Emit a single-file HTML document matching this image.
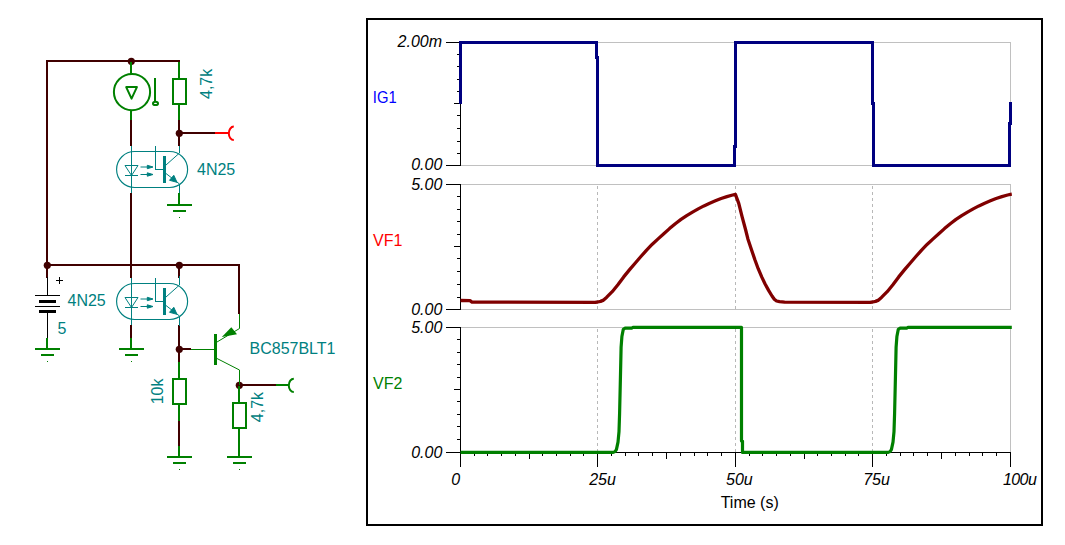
<!DOCTYPE html>
<html><head><meta charset="utf-8">
<style>
html,body{margin:0;padding:0;background:#fff;}
body{width:1065px;height:545px;overflow:hidden;font-family:"Liberation Sans",sans-serif;}
svg{display:block;position:absolute;left:0;top:0;}
text{font-family:"Liberation Sans",sans-serif;}
.w{stroke:#400000;stroke-width:2;fill:none;shape-rendering:crispEdges;}
.g{stroke:#008000;stroke-width:2;fill:none;shape-rendering:crispEdges;}
.g1{stroke:#008000;stroke-width:1;fill:none;}
.t{stroke:#008080;stroke-width:1;fill:none;}
.k{stroke:#000;stroke-width:1;fill:none;shape-rendering:crispEdges;}
.lb{fill:#008080;font-size:16px;}
.ax{fill:#000;font-size:16px;font-style:italic;}
</style></head><body>
<svg width="1065" height="545" viewBox="0 0 1065 545">
<rect width="1065" height="545" fill="#fff"/>
<!-- SCHEMATIC -->
<g id="sch">
<!-- dark wires -->
<path class="w" d="M46,61 H180 M47,60 V278 M46,265 H240 M239,264 V314 M131,120 V146 M131,193 V278 M131,325 V338 M179,120 V146 M179,133 H215 M179,265 V278 M179,325 V362 M179,349 H191 M179,421 V446 M239,385 H276"/>
<!-- junction dots -->
<g fill="#400000"><circle cx="131.3" cy="61.3" r="3.6"/><circle cx="179.3" cy="133.3" r="3.6"/><circle cx="47.3" cy="265.3" r="3.6"/><circle cx="179.3" cy="265.3" r="3.6"/><circle cx="179.3" cy="349.3" r="3.6"/><circle cx="239.3" cy="385.3" r="3.6"/></g>
<!-- red output -->
<path d="M215,133 H229" stroke="#ff0000" stroke-width="2" fill="none" shape-rendering="crispEdges"/>
<path d="M233.8,126.6 A5,6.7 0 0 0 233.8,140" stroke="#ff0000" stroke-width="2" fill="none"/>
<!-- green output -->
<path class="g" d="M276,385 H289"/>
<path d="M293.8,378.7 A5,6.7 0 0 0 293.8,392.1" stroke="#008000" stroke-width="2" fill="none"/>
<!-- current source -->
<path class="g" d="M131,62 V74 M131,110 V120"/>
<circle cx="132" cy="92.05" r="18.1" stroke="#008000" stroke-width="2" fill="none"/>
<path d="M126.2,87.1 H136.9 L131.55,98.7 Z" stroke="#008000" stroke-width="2" fill="none" stroke-linejoin="round"/>
<path class="g" d="M155,78 V101"/>
<ellipse cx="155.5" cy="103.4" rx="2.5" ry="1.7" stroke="#008000" stroke-width="2" fill="none"/>
<!-- R1 4,7k -->
<path class="g" d="M179,62 V79 M179,104 V120"/>
<rect class="g" x="173" y="79" width="13" height="25"/>
<!-- opto 1 -->
<g id="opto" class="t">
<path d="M134.6,151.5 H169.6 A18,18 0 0 1 169.6,187.5 H134.6 A18,18 0 0 1 134.6,151.5 Z" stroke-width="1.15"/>
<path d="M131.5,146 V193" shape-rendering="crispEdges"/>
<path d="M125,165.5 H138 L131.5,175.5 Z M125,175.5 H138"/>
<path d="M140.5,167 H149 M140.5,174.5 H149"/>
<path d="M147.3,165.3 L153,167 L147.3,168.7 Z M147.3,172.8 L153,174.5 L147.3,176.2 Z" fill="#008080"/>
<path d="M155.5,146 V169.5 H164" shape-rendering="crispEdges"/>
<path d="M164.5,156 V182.5" stroke-width="3" shape-rendering="crispEdges"/>
<path d="M179.5,146 V153 L166,165 M166,173.5 L179.5,184 V193"/>
<path d="M177,182.3 L169.5,180.3 L173.8,175.3 Z" fill="#008080"/>
</g>
<path class="g" d="M179,193 V205 M167,205 H192 M173,211 H186"/>
<rect x="179" y="217" width="1" height="1" fill="#008000"/>
<!-- opto 2 -->
<g class="t" transform="translate(0,132)">
<path d="M134.6,151.5 H169.6 A18,18 0 0 1 169.6,187.5 H134.6 A18,18 0 0 1 134.6,151.5 Z" stroke-width="1.15"/>
<path d="M131.5,146 V193" shape-rendering="crispEdges"/>
<path d="M125,165.5 H138 L131.5,175.5 Z M125,175.5 H138"/>
<path d="M140.5,167 H149 M140.5,174.5 H149"/>
<path d="M147.3,165.3 L153,167 L147.3,168.7 Z M147.3,172.8 L153,174.5 L147.3,176.2 Z" fill="#008080"/>
<path d="M155.5,146 V169.5 H164" shape-rendering="crispEdges"/>
<path d="M164.5,156 V182.5" stroke-width="3" shape-rendering="crispEdges"/>
<path d="M179.5,144 V153 L166,165 M166,173.5 L179.5,184 V194"/>
<path d="M177,182.3 L169.5,180.3 L173.8,175.3 Z" fill="#008080"/>
</g>
<!-- ground under opto2 LED -->
<path class="g" d="M131,338 V349 M119,349 H144 M125,355 H138"/>
<rect x="131" y="361" width="1" height="1" fill="#008000"/>
<!-- battery -->
<path class="k" d="M47.5,277 V295 M35,295.5 H60 M35,306.5 H60 M47.5,312 V338 M56,280.5 H63 M59.5,277 V284"/>
<path d="M39,301 H56 M39,311 H56" stroke="#000" stroke-width="3" shape-rendering="crispEdges"/>
<path class="g" d="M47,338 V349 M35,349 H60 M41,355 H54"/>
<rect x="47" y="361" width="1" height="1" fill="#008000"/>
<!-- R 10k -->
<path class="g" d="M179,362 V379 M179,404 V421 M179,446 V457 M167,457 H192 M173,463 H186"/>
<rect class="g" x="173" y="379" width="13" height="25"/>
<rect x="179" y="469" width="1" height="1" fill="#008000"/>
<!-- PNP -->
<path class="g1" d="M191,349.5 H214" shape-rendering="crispEdges"/>
<path d="M215.5,333.5 V365" stroke="#008000" stroke-width="3" shape-rendering="crispEdges"/>
<path class="g1" d="M239.5,314 V328.5 L217,342 M217,358.5 L239.5,370 V385"/>
<path d="M221.8,337 L231.3,327.2 L237,334.2 Z" fill="#008000"/>
<!-- R 4,7k lower -->
<path class="g" d="M239,386 V403 M239,428 V457 M227,457 H252 M233,463 H246"/>
<rect class="g" x="233" y="403" width="13" height="25"/>
<rect x="239" y="469" width="1" height="1" fill="#008000"/>
<!-- labels -->
<text class="lb" x="197" y="174.7">4N25</text>
<text class="lb" x="67.5" y="305.5">4N25</text>
<text class="lb" x="57.5" y="333.5">5</text>
<text class="lb" x="249.5" y="353.5">BC857BLT1</text>
<text class="lb" transform="translate(212,99) rotate(-90)">4,7k</text>
<text class="lb" transform="translate(163.2,404.3) rotate(-90)">10k</text>
<text class="lb" transform="translate(263.3,422.2) rotate(-90)">4,7k</text>
</g>
<!-- CHART -->
<g id="chart">
<rect x="367" y="19" width="675" height="506" fill="none" stroke="#000" stroke-width="2" shape-rendering="crispEdges"/>
<path d="M460.5,42.5 H1010.5 V165.5 H460.5 M460.5,184.5 H1010.5 V309.5 H460.5 M460.5,327.5 H1010.5 V452.5" stroke="#c0c0c0" stroke-width="1" fill="none" shape-rendering="crispEdges"/>
<path d="M597.5,186 V309.5 M597.5,329 V452.5 M735.5,186 V309.5 M735.5,329 V452.5 M872.5,186 V309.5 M872.5,329 V452.5" stroke="#b8b8b8" stroke-width="1" stroke-dasharray="3,3" fill="none" shape-rendering="crispEdges"/>
<path d="M460.5,42.5 V165.5 M446,42.5 H461 M457,54.5 H461 M457,66.5 H461 M457,79.5 H461 M457,91.5 H461 M454,103.5 H461 M457,115.5 H461 M457,128.5 H461 M457,141.5 H461 M457,153.5 H461 M446,165.5 H461 M460.5,184.5 V309.5 M446,184.5 H461 M457,196.5 H461 M457,209.5 H461 M457,221.5 H461 M457,234.5 H461 M454,246.5 H461 M457,258.5 H461 M457,271.5 H461 M457,284.5 H461 M457,297.5 H461 M446,309.5 H461 M460.5,327.5 V452.5 M446,327.5 H461 M457,339.5 H461 M457,352.5 H461 M457,364.5 H461 M457,377.5 H461 M454,389.5 H461 M457,401.5 H461 M457,414.5 H461 M457,426.5 H461 M457,439.5 H461 M446,452.5 H461 M460,452.5 H1011 M460.5,452 V467 M474.5,452 V455.5 M487.5,452 V455.5 M501.5,452 V455.5 M515.5,452 V455.5 M529.5,452 V458.5 M542.5,452 V455.5 M556.5,452 V455.5 M570.5,452 V455.5 M583.5,452 V455.5 M597.5,452 V467 M611.5,452 V455.5 M625.5,452 V455.5 M638.5,452 V455.5 M652.5,452 V455.5 M666.5,452 V458.5 M680.5,452 V455.5 M694.5,452 V455.5 M707.5,452 V455.5 M721.5,452 V455.5 M735.5,452 V467 M749.5,452 V455.5 M762.5,452 V455.5 M776.5,452 V455.5 M790.5,452 V455.5 M804.5,452 V458.5 M817.5,452 V455.5 M831.5,452 V455.5 M845.5,452 V455.5 M858.5,452 V455.5 M872.5,452 V467 M886.5,452 V455.5 M900.5,452 V455.5 M913.5,452 V455.5 M927.5,452 V455.5 M941.5,452 V458.5 M955.5,452 V455.5 M969.5,452 V455.5 M982.5,452 V455.5 M996.5,452 V455.5 M1010.5,452 V467" stroke="#000" stroke-width="1" fill="none" shape-rendering="crispEdges"/>
<path d="M460.5,104 V42.5 H596.5 V57.5 H597.5 V165.5 H734.5 V146.5 H735.5 V42.5 H872.5 V103.5 H873.5 V165.5 H1009.5 V123 H1010.5 V102" stroke="#000080" stroke-width="3" fill="none" stroke-linejoin="miter" shape-rendering="crispEdges"/>
<path d="M460.5,300.5 L470,300.6 L472,302.1 L595,302.3 L597.75,302 L600.5,301.4 L603,300.4 L606.5,297.4 L612.2,291.7 L617.9,284.8 L623.7,276.9 L629.4,269.9 L635.1,263.2 L640.9,256.5 L646.6,250.1 L652.3,244.2 L658.1,238.9 L663.8,233.8 L669.5,228.6 L675.3,223.7 L681,219.4 L686.7,215.6 L692.5,212.1 L698.2,208.9 L703.9,205.9 L709.7,203.2 L715.4,200.8 L721.1,198.5 L726.9,196.6 L732.6,195 L735.4,194.4 L738.75,203.3 L742.2,217.1 L745.6,229.7 L747.9,238.9 L751.4,249.4 L754.8,259.5 L758.2,268.7 L761.7,276.9 L765.1,284 L768.6,290.4 L772,296 L774.3,299.2 L776.6,301 L779.5,301.7 L784.6,302.1 L870,302.3 L872.75,302 L875.5,301.4 L878,300.4 L881.5,297.4 L887.2,291.7 L892.9,284.8 L898.7,276.9 L904.4,269.9 L910.1,263.2 L915.9,256.5 L921.6,250.1 L927.3,244.2 L933.1,238.9 L938.8,233.8 L944.5,228.6 L950.3,223.7 L956,219.4 L961.7,215.6 L967.5,212.1 L973.2,208.9 L978.9,205.9 L984.7,203.2 L990.4,200.8 L996.1,198.5 L1001.9,196.6 L1007.6,195 L1010.4,194.4 L1011.8,194.2" stroke="#800000" stroke-width="3.3" fill="none" stroke-linejoin="round"/>
<path d="M460.5,452.4 L613.2,452.4 L615,451.6 L616.4,449.6 L618,442.2 L619,431.7 L619.6,413.2 L620.4,378.8 L621.1,347.1 L621.9,336.5 L623.3,329.3 L625.1,328.2 L631.7,328.1 L633,327.4 L741.5,327.4 L741.5,441 L742.5,441 L742.5,452.4 L888.2,452.4 L890,451.6 L891.4,449.6 L893,442.2 L894,431.7 L894.6,413.2 L895.4,378.8 L896.1,347.1 L896.9,336.5 L898.3,329.3 L900.1,328.2 L906.7,328.1 L908,327.4 L1011.8,327.4" stroke="#008000" stroke-width="3.2" fill="none" stroke-linejoin="round"/>
<text class="ax" x="442" y="46.5" text-anchor="end">2.00m</text>
<text class="ax" x="442.3" y="169.9" text-anchor="end">0.00</text>
<text class="ax" x="442.3" y="189.9" text-anchor="end">5.00</text>
<text class="ax" x="442.3" y="314.6" text-anchor="end">0.00</text>
<text class="ax" x="442.3" y="332.7" text-anchor="end">5.00</text>
<text class="ax" x="442.3" y="457.5" text-anchor="end">0.00</text>
<text class="ax" x="451.3" y="484.5" text-anchor="start">0</text>
<text class="ax" x="589.2" y="484.5" text-anchor="start">25u</text>
<text class="ax" x="726" y="484.5" text-anchor="start">50u</text>
<text class="ax" x="863.2" y="484.5" text-anchor="start">75u</text>
<text class="ax" x="1003" y="484.7" letter-spacing="-0.6">100u</text>
<text x="720.7" y="507.8" font-size="16" fill="#000">Time (s)</text>
<text x="372.8" y="103" font-size="16" fill="#0000ff" textLength="23.8" lengthAdjust="spacingAndGlyphs">IG1</text>
<text x="373" y="246.4" font-size="16" fill="#ff0000">VF1</text>
<text x="373" y="388.9" font-size="16" fill="#008000">VF2</text>
</g>
</svg>
</body></html>
